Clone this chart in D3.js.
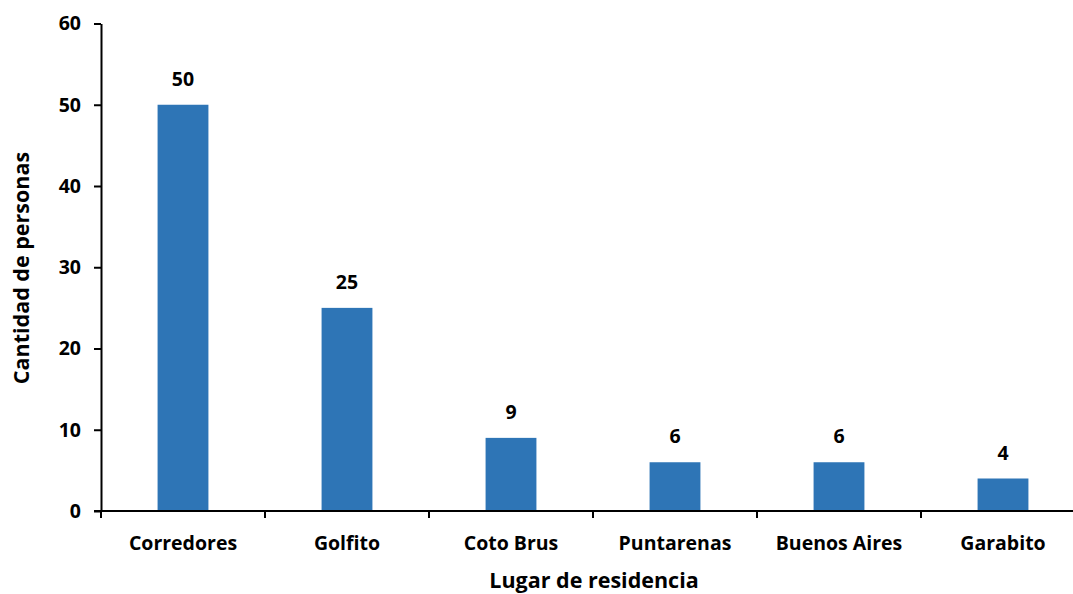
<!DOCTYPE html>
<html><head><meta charset="utf-8">
<script src="https://cdn.jsdelivr.net/npm/d3@7"></script>
<style>
html,body{margin:0;padding:0;background:#fff;overflow:hidden}
text{font-family:"Open Sans",Carlito,Calibri,sans-serif;font-weight:bold;fill:#000}
</style></head>
<body>
<svg id="chart" width="1073" height="594"></svg>
<script>
const categories = ["Corredores","Golfito","Coto Brus","Puntarenas","Buenos Aires","Garabito"];
const values = [50,25,9,6,6,4];
const yTicks = [0,10,20,30,40,50,60];
const xTitle = "Lugar de residencia";
const yTitle = "Cantidad de personas";

const FONT = '"Open Sans",Carlito,Calibri,sans-serif';
const svg = d3.select("#chart");
const x0 = 101, x1 = 1085, yBase = 511, yTop = 23.5;
const x = d3.scaleBand().domain(categories).range([x0, x1]).paddingInner(0.69).paddingOuter(0.345);
const y = d3.scaleLinear().domain([0,60]).range([yBase, yTop]);

// bars
svg.append("g").selectAll("rect").data(values).join("rect")
  .attr("x",(d,i)=>x(categories[i]))
  .attr("y",d=>y(d))
  .attr("width",x.bandwidth())
  .attr("height",d=>y(0)-y(d))
  .attr("fill","#2E75B6");

// value labels
svg.append("g").selectAll("text").data(values).join("text")
  .attr("x",(d,i)=>x(categories[i])+x.bandwidth()/2)
  .attr("y",d=>y(d)-19)
  .attr("text-anchor","middle")
  .style("font-size","19.5px")
  .text(d=>d);

// y axis
const yAxis = svg.append("g").attr("transform",`translate(${x0},0)`)
  .call(d3.axisLeft(y).tickValues(yTicks).tickSize(7).tickPadding(13).tickSizeOuter(0));
yAxis.select(".domain").attr("stroke","#000").attr("stroke-width",2);
yAxis.selectAll(".tick line").attr("stroke","#000").attr("stroke-width",2);
yAxis.selectAll(".tick text").style("font-size","19.5px").style("font-family",FONT).style("font-weight","bold");

// x axis
const xAxis = svg.append("g").attr("transform",`translate(0,${yBase})`);
xAxis.append("line").attr("x1",x0-7).attr("x2",x1).attr("y1",0).attr("y2",0).attr("stroke","#000").attr("stroke-width",2);
xAxis.selectAll("line.tk").data(categories).join("line").attr("class","tk")
  .attr("x1",d=>x(d)-x.step()*x.paddingOuter()).attr("x2",d=>x(d)-x.step()*x.paddingOuter())
  .attr("y1",0).attr("y2",7).attr("stroke","#000").attr("stroke-width",2);
xAxis.selectAll("text").data(categories).join("text")
  .attr("x",d=>x(d)+x.bandwidth()/2)
  .attr("y",39)
  .attr("text-anchor","middle")
  .style("font-size","19.5px")
  .text(d=>d);

// titles
svg.append("text").attr("x",594).attr("y",588).attr("text-anchor","middle")
  .style("font-size","21.5px").text(xTitle);
svg.append("text").attr("transform",`translate(29,268) rotate(-90)`).attr("text-anchor","middle")
  .style("font-size","21.5px").text(yTitle);
</script>
</body></html>
